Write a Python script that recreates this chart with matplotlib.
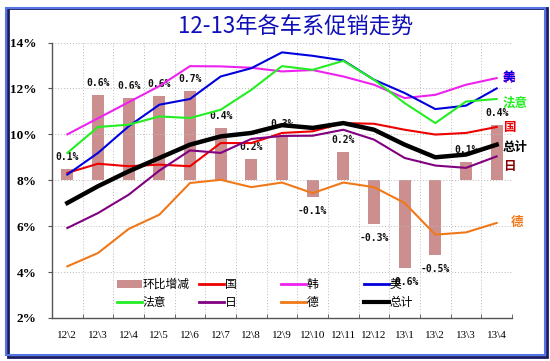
import matplotlib
matplotlib.use("Agg")
import matplotlib.pyplot as plt
from matplotlib.patches import Rectangle, Patch
from matplotlib.lines import Line2D
import numpy as np

plt.rcParams['font.family'] = ['Noto Sans CJK SC', 'DejaVu Sans']

categories = ["12\\2", "12\\3", "12\\4", "12\\5", "12\\6", "12\\7", "12\\8", "12\\9",
              "12\\10", "12\\11", "12\\12", "13\\1", "13\\2", "13\\3", "13\\4"]

# month-on-month change (%), secondary axis
change = [0.085, 0.62, 0.60, 0.61, 0.65, 0.38, 0.155, 0.32, -0.12, 0.205, -0.32, -0.64, -0.54, 0.13, 0.40]
change_labels = ["0.1%", "0.6%", "0.6%", "0.6%", "0.7%", "0.4%", "0.2%", "0.3%", "-0.1%", "0.2%",
                 "-0.3%", "-0.6%", "-0.5%", "0.1%", "0.4%"]

guo   = [8.32, 8.72, 8.61, 8.68, 8.61, 9.62, 9.62, 10.06, 10.13, 10.49, 10.46, 10.20, 9.99, 10.06, 10.32]
han   = [10.0, 10.7, 11.4, 12.1, 12.97, 12.96, 12.9, 12.74, 12.8, 12.52, 12.16, 11.58, 11.72, 12.16, 12.45]
mei   = [8.25, 9.19, 10.35, 11.29, 11.54, 12.52, 12.88, 13.57, 13.42, 13.22, 12.38, 11.80, 11.10, 11.25, 12.0]
fayi  = [9.19, 10.32, 10.42, 10.78, 10.71, 11.07, 11.94, 12.97, 12.81, 13.20, 12.38, 11.36, 10.49, 11.43, 11.54]
ri    = [5.92, 6.57, 7.37, 8.42, 9.30, 9.19, 9.80, 9.93, 9.94, 10.20, 9.77, 8.97, 8.64, 8.54, 9.04]
de    = [4.25, 4.83, 5.88, 6.50, 7.88, 8.02, 7.70, 7.90, 7.44, 7.90, 7.70, 7.01, 5.63, 5.73, 6.14]
total = [7.01, 7.74, 8.39, 8.97, 9.55, 9.91, 10.06, 10.40, 10.28, 10.49, 10.20, 9.55, 9.00, 9.12, 9.55]

yticks = [2, 4, 6, 8, 10, 12, 14]
ytick_labels = ["2%", "4%", "6%", "8%", "10%", "12%", "14%"]

series_names = ["国", "韩", "美", "法意", "日", "德", "总计"]
end_label_y = [10.28, 12.45, 12.5, 11.37, 8.59, 6.15, 9.41]

bar_color = "#CC8F8F"
c_guo, c_han, c_mei, c_fayi, c_ri, c_de, c_tot = "#EE0000", "#EE22EE", "#0000DD", "#22EE22", "#800080", "#F07818", "#000000"

W, H = 550, 361
fig = plt.figure(figsize=(W / 100, H / 100), dpi=100)
fig.patch.set_facecolor("white")

# outer frame
fig.patches.append(Rectangle((8 / W, 1 - 357 / H), 539 / W, 349 / H, transform=fig.transFigure,
                             fill=False, edgecolor="#1a1a60", linewidth=2.0, zorder=0))
fig.patches.append(Rectangle((6 / W, 1 - 355 / H), 539 / W, 347 / H, transform=fig.transFigure,
                             fill=False, edgecolor="#5575E5", linewidth=1.5, zorder=1))

left, right, bottom, top = 52, 512, 318, 42.5
ax = fig.add_axes([left / W, 1 - bottom / H, (right - left) / W, (bottom - top) / H])
ax2 = ax.twinx()
ax.set_zorder(ax2.get_zorder() + 1)
ax.patch.set_visible(False)

x = np.arange(len(categories))

# bars on secondary axis
ax2.bar(x, change, width=0.4, color=bar_color, zorder=2)
ax2.set_ylim(-1, 1)
ax2.set_yticks([])
for s in ax2.spines.values():
    s.set_visible(False)

for xi, v, lab in zip(x, change, change_labels):
    off = 12 if v >= 0 else -14
    ax2.annotate(lab, xy=(xi, v), xytext=(0, off), textcoords="offset pixels",
                 ha="center", va="center", fontsize=7, fontweight="bold",
                 family="DejaVu Sans Mono", color="#111111", zorder=3)

ax.plot(x, guo, color=c_guo, lw=1.5, zorder=4)
ax.plot(x, han, color=c_han, lw=1.5, zorder=4)
ax.plot(x, mei, color=c_mei, lw=1.5, zorder=4)
ax.plot(x, fayi, color=c_fayi, lw=1.5, zorder=4)
ax.plot(x, ri, color=c_ri, lw=1.5, zorder=4)
ax.plot(x, de, color=c_de, lw=1.5, zorder=4)
ax.plot(x, total, color=c_tot, lw=3.2, zorder=5)

ax.set_xlim(-0.5, len(categories) - 0.5)
ax.set_ylim(2, 14)
ax.set_yticks(yticks)
ax.set_yticklabels(ytick_labels, family="Liberation Serif", fontweight="bold", fontsize=9.5)
ax.set_xticks(x)
ax.set_xticklabels(categories, family="Liberation Serif", fontsize=8)
ax.tick_params(axis="x", which="major", length=0, pad=9)
ax.set_xticks(np.arange(-0.5, len(categories), 1), minor=True)
ax.tick_params(axis="x", which="minor", direction="in", length=3, color="#555555")
ax.tick_params(axis="y", length=3, direction="out", color="#555555", pad=8)
ax.grid(True, which="minor", axis="x", linestyle=(0, (1, 2)), color="#bbbbbb", lw=0.7)
ax.grid(True, which="major", axis="y", linestyle=(0, (1, 2)), color="#bbbbbb", lw=0.7)
ax.spines["top"].set_visible(False)
ax.spines["right"].set_visible(False)
ax.spines["left"].set_color("#555555")
ax.spines["bottom"].set_color("#555555")
ax.spines["left"].set_linewidth(1.0)
ax.spines["bottom"].set_linewidth(1.0)

# right-side series labels
end_colors = [c_guo, c_han, c_mei, c_fayi, "#8B0000", c_de, c_tot]
for name, yv, col in zip(series_names, end_label_y, end_colors):
    xo = 14.2 if name != "德" else 14.45
    ax.text(xo, yv, name, color=col, fontsize=9, fontweight="bold", va="center", ha="left",
            zorder=6, clip_on=False)

# legend as four columns
cols = [
    ([Patch(facecolor=bar_color, edgecolor="none"), Line2D([], [], color=c_fayi, lw=2)], ["环比增减", "法意"], 117),
    ([Line2D([], [], color=c_guo, lw=2), Line2D([], [], color=c_ri, lw=2)], ["国", "日"], 199),
    ([Line2D([], [], color=c_han, lw=2), Line2D([], [], color=c_de, lw=2)], ["韩", "德"], 281),
    ([Line2D([], [], color=c_mei, lw=2), Line2D([], [], color=c_tot, lw=3)], ["美", "总计"], 364),
]
for handles, labels, px in cols:
    lg = fig.legend(handles, labels, loc="upper left", bbox_to_anchor=(px / W, 1 - 278 / H),
                    bbox_transform=fig.transFigure, frameon=False, fontsize=8.5,
                    handlelength=2.1, handleheight=0.6, handletextpad=0.1,
                    labelspacing=0.45, borderpad=0, borderaxespad=0)
    lg.set_zorder(7)

fig.text(296 / W, 1 - 27 / H, "12-13年各车系促销走势", ha="center", va="center",
         fontsize=16, color="#1010B8")

fig.savefig("out.png", dpi=100, facecolor="white")
